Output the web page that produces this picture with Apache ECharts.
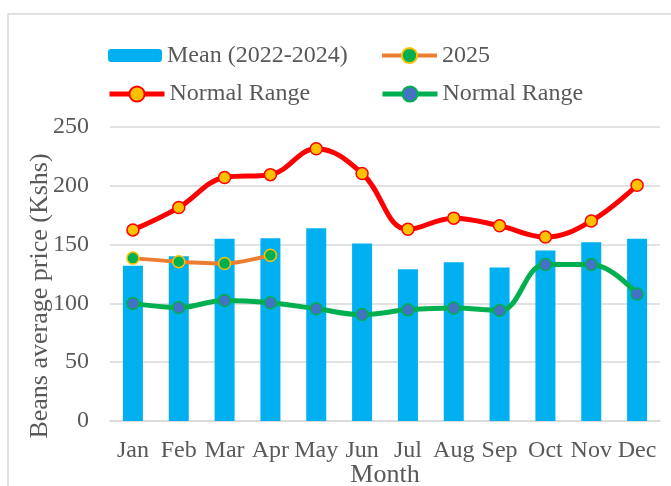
<!DOCTYPE html>
<html>
<head>
<meta charset="utf-8">
<script src="https://cdn.jsdelivr.net/npm/echarts@6/dist/echarts.min.js"></script>
<style>
  html, body { margin: 0; padding: 0; background: #fff; }
  #chart { width: 671px; height: 486px; }
</style>
</head>
<body>
<div id="chart"></div>
<script>
// 月份与数据
const months = ['Jan', 'Feb', 'Mar', 'Apr', 'May', 'Jun', 'Jul', 'Aug', 'Sep', 'Oct', 'Nov', 'Dec'];
const meanValues = [132, 140, 155, 155.5, 164, 151, 129, 135, 130.5, 145, 152, 155];
const values2025 = [138.5, 135.5, 134, 141];
const upperRange = [162.5, 181.5, 207, 209.5, 231.5, 210.5, 163, 172.5, 166, 156.5, 170, 200.5];
const lowerRange = [100, 96.5, 102.5, 100.5, 95.5, 90.5, 94.5, 96, 94, 133, 133, 108];
const yTicks = [0, 50, 100, 150, 200, 250];

const FONT = '"Liberation Serif", "Times New Roman", serif';
const TXT = '#595959';

const chart = echarts.init(document.getElementById('chart'));

// 每个图例单独定位，两个 "Normal Range" 用 formatter 显示同名
const mkLegend = (name, left, top, extra) => Object.assign({
    data: [name],
    left: left,
    top: top,
    padding: 0,
    itemWidth: 55,
    itemHeight: 19,
    textStyle: { fontFamily: FONT, fontSize: 24, color: TXT },
    formatter: n => n.startsWith('Normal Range') ? 'Normal Range' : n
}, extra);

const option = {
    backgroundColor: '#fff',
    animation: false,
    graphic: [{
        type: 'rect',
        shape: { x: 8, y: 14, width: 700, height: 520 },
        style: { fill: 'none', stroke: '#d9d9d9', lineWidth: 1.5 },
        silent: true
    }],
    legend: [
        mkLegend('Mean (2022-2024)', 108, 43.5, { itemWidth: 54, itemHeight: 13 }),
        mkLegend('2025', 380, 43.5, { lineStyle: { width: 4 } }),
        mkLegend('Normal Range (upper)', 107, 82, { lineStyle: { width: 5 } }),
        mkLegend('Normal Range (lower)', 380, 82, { lineStyle: { width: 5 } })
    ],
    grid: { left: 110, right: 11, top: 127, bottom: 65, outerBoundsMode: 'none' },
    xAxis: {
        type: 'category',
        data: months,
        name: 'Month',
        nameLocation: 'middle',
        nameGap: 41,
        nameMoveOverlap: false,
        nameTextStyle: { fontFamily: FONT, fontSize: 26, color: TXT },
        axisLine: { lineStyle: { color: '#d9d9d9', width: 1.5 } },
        axisTick: { show: false },
        axisLabel: { fontFamily: FONT, fontSize: 24, color: TXT, margin: 18, interval: 0 }
    },
    yAxis: {
        type: 'value',
        min: yTicks[0],
        max: yTicks[yTicks.length - 1],
        interval: 50,
        name: 'Beans average price (Kshs)',
        nameLocation: 'middle',
        nameGap: 57,
        nameMoveOverlap: false,
        nameTextStyle: { fontFamily: FONT, fontSize: 26, color: TXT, padding: [0, 44, 0, 0] },
        axisLine: { show: false },
        axisTick: { show: false },
        axisLabel: { fontFamily: FONT, fontSize: 24, color: TXT, margin: 21 },
        splitLine: { lineStyle: { color: '#d9d9d9', width: 1.5 } }
    },
    series: [
        {
            name: 'Mean (2022-2024)',
            type: 'bar',
            data: meanValues,
            barWidth: 20,
            itemStyle: { color: '#00B0F0' },
            z: 1
        },
        {
            name: '2025',
            type: 'line',
            data: values2025,
            smooth: 0.3,
            symbol: 'circle',
            symbolSize: 12,
            lineStyle: { color: '#ED7D31', width: 4 },
            itemStyle: { color: '#00B050', borderColor: '#FFC000', borderWidth: 1.5 },
            z: 3
        },
        {
            name: 'Normal Range (upper)',
            type: 'line',
            data: upperRange,
            smooth: 0.4,
            symbol: 'circle',
            symbolSize: 12,
            lineStyle: { color: '#FF0000', width: 5 },
            itemStyle: { color: '#FFC000', borderColor: '#FF0000', borderWidth: 1.5 },
            z: 3
        },
        {
            name: 'Normal Range (lower)',
            type: 'line',
            data: lowerRange,
            smooth: 0.4,
            symbol: 'circle',
            symbolSize: 12,
            lineStyle: { color: '#00B050', width: 5 },
            itemStyle: { color: '#4472C4', borderColor: '#00B050', borderWidth: 1.5 },
            z: 3
        }
    ]
};

chart.setOption(option);
</script>
</body>
</html>
